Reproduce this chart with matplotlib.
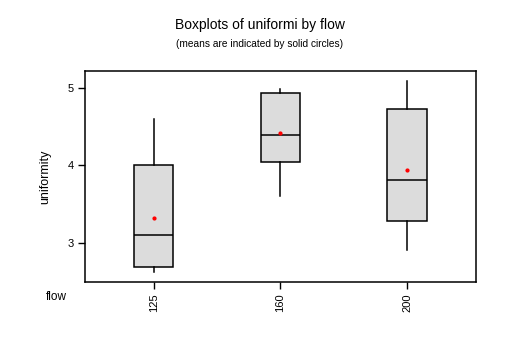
import matplotlib
matplotlib.use("Agg")
import matplotlib.pyplot as plt

plt.rcParams['font.family'] = ['Liberation Sans', 'DejaVu Sans']

flows = ["125", "160", "200"]
whislo = [2.62, 3.61, 2.91]
q1 = [2.68, 4.05, 3.28]
med = [3.10, 4.40, 3.81]
q3 = [4.00, 4.94, 4.73]
whishi = [4.60, 4.99, 5.09]
means = [3.32, 4.42, 3.94]

stats = []
for i in range(len(flows)):
    stats.append(dict(label=flows[i], whislo=whislo[i], q1=q1[i], med=med[i],
                      q3=q3[i], whishi=whishi[i], mean=means[i], fliers=[]))

fig = plt.figure(figsize=(5.3, 3.54), dpi=100)
ax = fig.add_axes([0.160, 0.203, 0.738, 0.596])

ax.bxp(stats, positions=[1, 2, 3], widths=0.31, patch_artist=True, showmeans=True,
       showcaps=False,
       boxprops=dict(facecolor='#dcdcdc', edgecolor='black', linewidth=1.1),
       medianprops=dict(color='black', linewidth=1.1),
       whiskerprops=dict(color='black', linewidth=1.1),
       meanprops=dict(marker='o', markerfacecolor='red', markeredgecolor='red',
                      markersize=2.0))

ax.set_xlim(0.455, 3.545)
ax.set_ylim(2.49, 5.22)
ax.set_yticks([3, 4, 5])
ax.set_yticklabels(["3", "4", "5"])
ax.set_xticks([1, 2, 3])
ax.set_xticklabels(flows, rotation=90)
ax.tick_params(axis='y', length=5, width=1, labelsize=8, pad=3)
ax.tick_params(axis='x', length=5, width=1, labelsize=8, pad=3)
for s in ax.spines.values():
    s.set_linewidth(1.1)

ax.set_ylabel("uniformity", fontsize=9, labelpad=12)
fig.text(0.106, 0.161, "flow", fontsize=8.5, ha='center', va='center')

fig.text(0.49, 0.929, "Boxplots of uniformi by flow", fontsize=10, ha='center', va='center')
fig.text(0.49, 0.875, "(means are indicated by solid circles)", fontsize=7.3, ha='center', va='center')

fig.savefig("out.png", dpi=100)
